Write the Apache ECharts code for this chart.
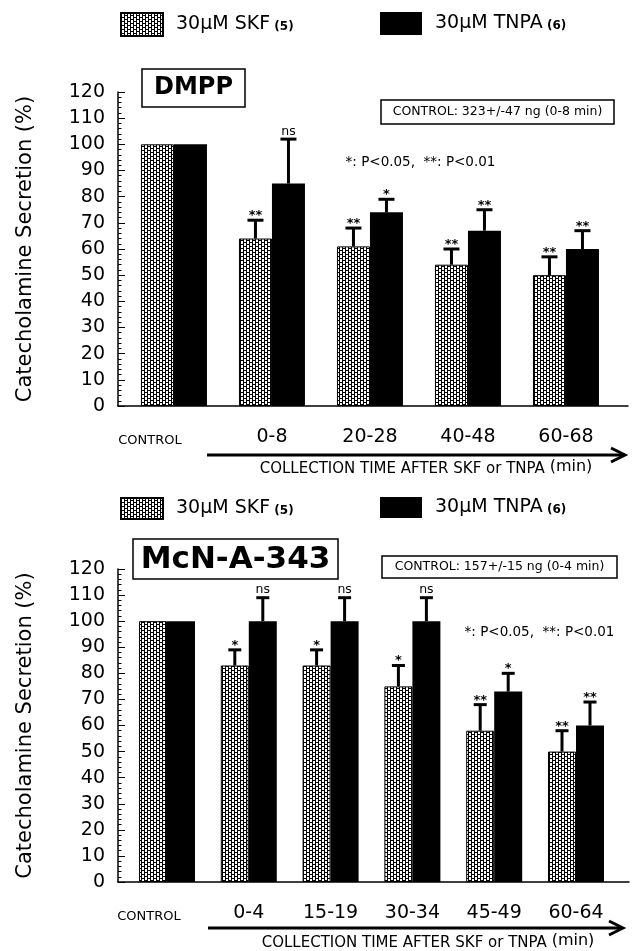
<!DOCTYPE html>
<html><head><meta charset="utf-8">
<script src="https://cdn.jsdelivr.net/npm/echarts@6/dist/echarts.min.js"></script>
<style>html,body{margin:0;padding:0;background:#fff}#c{width:632px;height:951px}</style>
</head><body><div id="c"></div>
<script>
const FONT = 'DejaVu Sans';

// ---- data: top panel (DMPP) ----
const catsTop = ['CONTROL', '0-8', '20-28', '40-48', '60-68'];
const skfTop = [100, 64, 61, 54, 50];
const skfTopErr = [0, 7, 7, 6, 7];
const skfTopSig = ['', '**', '**', '**', '**'];
const tnpaTop = [100, 85, 74, 67, 60];
const tnpaTopErr = [0, 17, 5, 8, 7];
const tnpaTopSig = ['', 'ns', '*', '**', '**'];

// ---- data: bottom panel (McN-A-343) ----
const catsBot = ['CONTROL', '0-4', '15-19', '30-34', '45-49', '60-64'];
const skfBot = [100, 83, 83, 75, 58, 50];
const skfBotErr = [0, 6, 6, 8, 10, 8];
const skfBotSig = ['', '*', '*', '*', '**', '**'];
const tnpaBot = [100, 100, 100, 100, 73, 60];
const tnpaBotErr = [0, 9, 9, 9, 7, 9];
const tnpaBotSig = ['', 'ns', 'ns', 'ns', '*', '**'];

// ---- axis / text ----
const yMin = 0, yMax = 120, yStep = 10;
const yTitle = 'Catecholamine Secretion (%)';
const seriesNames = ['30µM SKF', '30µM TNPA'];
const seriesN = ['(5)', '(6)'];
const panelTitles = ['DMPP', 'McN-A-343'];
const controlNotes = ['CONTROL: 323+/-47 ng (0-8 min)', 'CONTROL: 157+/-15 ng (0-4 min)'];
const pNote = '*: P<0.05,  **: P<0.01';
const xTitle = 'COLLECTION TIME AFTER SKF or TNPA ';
const xUnit = '(min)';

function makePattern() {
  const c = document.createElement('canvas');
  c.width = 6; c.height = 4;
  const g = c.getContext('2d');
  g.fillStyle = '#fff'; g.fillRect(0, 0, 6, 4);
  g.fillStyle = '#000';
  g.fillRect(0, 0, 1, 4);
  g.fillRect(3, 0, 1, 4);
  g.fillRect(1, 0, 2, 1);
  g.fillRect(4, 2, 2, 1);
  return c;
}
const pat = { image: makePattern(), repeat: 'repeat' };

function xAxisFor(gi, cats, min, max, shift) {
  return {
    gridIndex: gi, type: 'value', min: min, max: max,
    splitLine: { show: false }, axisTick: { show: false },
    axisLine: { onZero: false, lineStyle: { color: '#000', width: 1.5 } },
    axisLabel: {
      color: '#000', fontFamily: FONT, fontSize: 19, margin: 22,
      showMinLabel: true, showMaxLabel: true,
      formatter: function (v) {
        const i = Math.round(v);
        if (Math.abs(v - i) > 1e-6 || i < 0 || i >= cats.length) return '';
        return i === 0 ? '{c|' + cats[0] + '}' : cats[i];
      },
      rich: { c: { fontFamily: FONT, fontSize: 13, color: '#000', padding: [6, shift, 0, 0] } }
    }
  };
}
function yAxisFor(gi) {
  return {
    gridIndex: gi, type: 'value', min: yMin, max: yMax, interval: yStep,
    axisLine: { show: true, onZero: false, lineStyle: { color: '#000', width: 1.5 } },
    axisTick: { show: true, inside: true, length: 7, lineStyle: { color: '#000', width: 1 } },
    minorTick: { show: true, splitNumber: 5, length: 3.5, lineStyle: { color: '#000', width: 1 } },
    splitLine: { show: false }, minorSplitLine: { show: false },
    axisLabel: { color: '#000', fontFamily: FONT, fontSize: 19, margin: 13 },
    name: yTitle, nameLocation: 'middle', nameGap: 82, nameRotate: 90,
    nameTextStyle: { fontFamily: FONT, fontSize: 21, color: '#000' }
  };
}
function barSeries(gi, name, vals, isSkf, bw) {
  return {
    type: 'bar', name: name, xAxisIndex: gi, yAxisIndex: gi,
    barWidth: bw, barGap: '0%',
    itemStyle: isSkf ? { color: pat, borderColor: '#000', borderWidth: 1 } : { color: '#000' },
    data: vals.map((v, i) => [i, v]),
    z: 2
  };
}
function errSeries(gi, vals, errs, sigs, dx, capW) {
  return {
    type: 'custom', name: 'err' + gi + dx, xAxisIndex: gi, yAxisIndex: gi, z: 5,
    data: vals.map((v, i) => [i, v, errs[i]]),
    renderItem: function (params, api) {
      const i = params.dataIndex;
      const e = api.value(2);
      if (!e) return null;
      const p0 = api.coord([api.value(0), api.value(1)]);
      const p1 = api.coord([api.value(0), api.value(1) + e]);
      const cx = p0[0] + dx;
      const s = sigs[i];
      const isNs = s === 'ns';
      return {
        type: 'group', children: [
          { type: 'line', shape: { x1: cx, y1: p0[1], x2: cx, y2: p1[1] }, style: { stroke: '#000', lineWidth: 3 } },
          { type: 'line', shape: { x1: cx - capW / 2, y1: p1[1], x2: cx + capW / 2, y2: p1[1] }, style: { stroke: '#000', lineWidth: 3 } },
          { type: 'text', style: { text: s, x: cx, y: p1[1] - (isNs ? 1 : -2),
              textAlign: 'center', align: 'center', textVerticalAlign: 'bottom', verticalAlign: 'bottom',
              fontFamily: FONT, fontSize: isNs ? 12.5 : 13, fontWeight: isNs ? 'normal' : 'bold', fill: '#000' } }
        ]
      };
    }
  };
}
function legendFor(name, n, left, top, h) {
  return {
    data: [name], left: left, top: top, itemWidth: 42, itemHeight: h, icon: 'rect',
    selectedMode: false, padding: 0,
    formatter: function () { return '{a|' + name + '}{b| ' + n + '}'; },
    textStyle: { rich: {
      a: { fontFamily: FONT, fontSize: 19, color: '#000', padding: [0, 0, 0, 8] },
      b: { fontFamily: FONT, fontSize: 12, fontWeight: 'bold', color: '#000', padding: [4, 0, 0, 0] }
    } }
  };
}
function txt(text, x, y, size, weight, align) {
  return { type: 'text', z: 10, style: { text: text, x: x, y: y, fontFamily: FONT, fontSize: size, fontWeight: weight || 'normal',
    fill: '#000', textAlign: align || 'center', align: align || 'center', textVerticalAlign: 'middle', verticalAlign: 'middle' } };
}
function box(x, y, w, h) {
  return { type: 'rect', z: 9, shape: { x: x, y: y, width: w, height: h }, style: { fill: '#fff', stroke: '#000', lineWidth: 1.5 } };
}
function arrow(x1, x2, y) {
  return [
    { type: 'line', z: 9, shape: { x1: x1, y1: y, x2: x2, y2: y }, style: { stroke: '#000', lineWidth: 3 } },
    { type: 'polyline', z: 9, shape: { points: [[x2 - 13, y - 7], [x2 + 1, y], [x2 - 13, y + 7]] }, style: { stroke: '#000', lineWidth: 3, fill: null } }
  ];
}
function xTitleText(x, y) {
  return { type: 'text', z: 10, style: { x: x, y: y, text: '{a|' + xTitle + '}{b|' + xUnit + '}',
    textAlign: 'center', align: 'center', textVerticalAlign: 'middle', verticalAlign: 'middle',
    rich: { a: { fontFamily: FONT, fontSize: 15, fill: '#000', color: '#000' },
            b: { fontFamily: FONT, fontSize: 16, fill: '#000', color: '#000', padding: [0, 0, 4, 0] } } } };
}

const option = {
  backgroundColor: '#fff',
  animation: false,
  grid: [
    { left: 118, top: 92, width: 510, height: 314 },
    { left: 118, top: 569, width: 511, height: 313 }
  ],
  xAxis: [
    xAxisFor(0, catsTop, -0.571, 4.633, 48),
    xAxisFor(1, catsBot, -0.599, 5.648, 36)
  ],
  yAxis: [yAxisFor(0), yAxisFor(1)],
  legend: [
    legendFor(seriesNames[0], seriesN[0], 120, 12, 23),
    legendFor(seriesNames[1], seriesN[1], 380, 12, 23),
    legendFor(seriesNames[0], seriesN[0], 120, 497, 21),
    legendFor(seriesNames[1], seriesN[1], 380, 497, 21)
  ],
  series: [
    barSeries(0, seriesNames[0], skfTop, true, 33),
    barSeries(0, seriesNames[1], tnpaTop, false, 33),
    errSeries(0, skfTop, skfTopErr, skfTopSig, -16.5, 16),
    errSeries(0, tnpaTop, tnpaTopErr, tnpaTopSig, 16.5, 16),
    barSeries(1, seriesNames[0], skfBot, true, 28),
    barSeries(1, seriesNames[1], tnpaBot, false, 28),
    errSeries(1, skfBot, skfBotErr, skfBotSig, -14, 13),
    errSeries(1, tnpaBot, tnpaBotErr, tnpaBotSig, 14, 13)
  ],
  graphic: [
    box(142, 69, 103, 38), txt(panelTitles[0], 193.5, 88, 24, 'bold'),
    box(381, 100, 233, 24), txt(controlNotes[0], 497.5, 112, 12.5),
    txt(pNote, 420.5, 162, 13.5),
    ...arrow(207, 624, 455), xTitleText(426, 469),
    box(133, 539, 205, 40), txt(panelTitles[1], 235.5, 559.5, 31, 'bold'),
    box(382, 556, 235, 22), txt(controlNotes[1], 499.5, 567, 12.5),
    txt(pNote, 539.5, 632, 13.5),
    ...arrow(208, 622, 928), xTitleText(428, 943)
  ]
};
const chart = echarts.init(document.getElementById('c'), null, { renderer: 'canvas' });
chart.setOption(option);
</script></body></html>
